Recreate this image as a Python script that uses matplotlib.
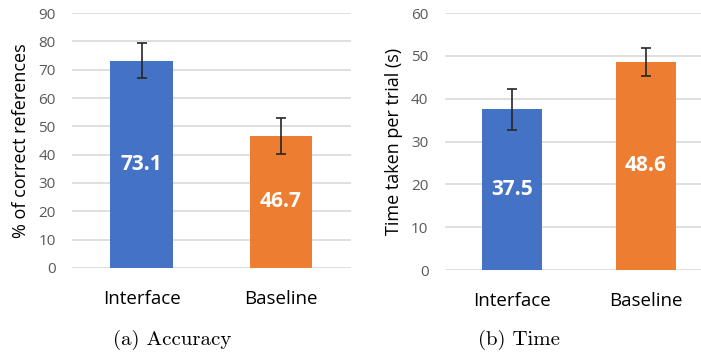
import matplotlib.pyplot as plt
import numpy as np

# Datos
categorias = ['Interface', 'Baseline']
precision = [73.1, 46.7]
precision_err = [6.2, 6.3]
tiempo = [37.5, 48.6]
tiempo_err = [4.8, 3.2]

colores = ['#4472C4', '#ED7D31']
fuente = ['Open Sans', 'DejaVu Sans']
gris = '#595959'

fig = plt.figure(figsize=(7.01, 3.53), dpi=100)
ax1 = fig.add_axes([0.103, 0.241, 0.397, 0.722])
ax2 = fig.add_axes([0.635, 0.235, 0.382, 0.728])


def dibujar(ax, valores, errores, ymax, etiqueta_y):
    pos = np.arange(len(categorias))
    ax.bar(pos, valores, 0.45, color=colores, yerr=errores, capsize=3.5,
           error_kw=dict(ecolor='#262626', elinewidth=1.2, capthick=1.2), zorder=3)
    for p, v in zip(pos, valores):
        ax.text(p, v / 2, f'{v:.1f}', ha='center', va='center', color='white',
                fontsize=15, fontweight='bold', family=fuente, zorder=4)
    ax.set_xlim(-0.5, 1.5)
    ax.set_ylim(0, ymax)
    ax.set_yticks(np.arange(0, ymax + 1, 10))
    ax.set_xticks(pos)
    ax.set_xticklabels(categorias, fontsize=13.5, family=fuente, color='black')
    ax.grid(axis='y', color='#D9D9D9', linewidth=1.2, zorder=0)
    for s in ax.spines.values():
        s.set_visible(False)
    ax.tick_params(length=0)
    ax.tick_params(axis='y', labelsize=11, labelcolor=gris, pad=12)
    ax.tick_params(axis='x', pad=16)
    for t in ax.get_yticklabels():
        t.set_family(fuente)
    ax.set_ylabel(etiqueta_y, fontsize=13, family=fuente, labelpad=6)


dibujar(ax1, precision, precision_err, 90, '% of correct references')
dibujar(ax2, tiempo, tiempo_err, 60, 'Time taken per trial (s)')

fig.text(0.245, 0.022, '(a) Accuracy', ha='center', fontsize=15, family='cmr10')
fig.text(0.74, 0.022, '(b) Time', ha='center', fontsize=15, family='cmr10')

fig.savefig('out.png', dpi=100)
